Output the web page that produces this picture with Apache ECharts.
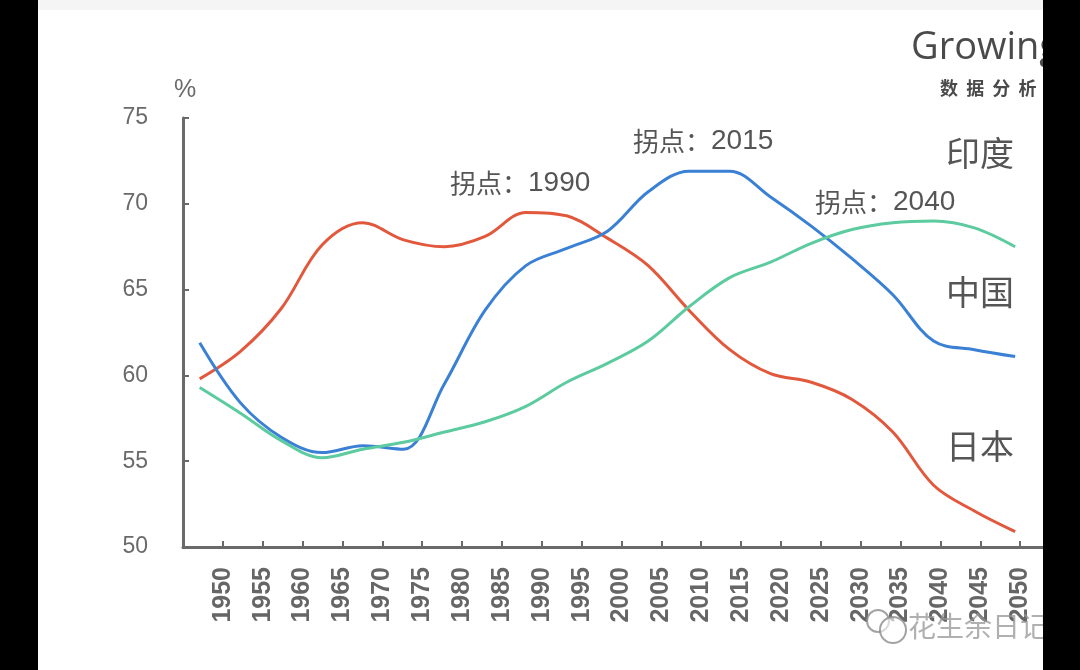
<!DOCTYPE html>
<html><head><meta charset="utf-8">
<script src="https://cdn.jsdelivr.net/npm/echarts@6/dist/echarts.min.js"></script>
<style>html,body{margin:0;padding:0;background:#fff}#c{width:1080px;height:670px}</style>
</head><body><div id="c"></div>
<script>
const years = [1950,1955,1960,1965,1970,1975,1980,1985,1990,1995,2000,2005,2010,2015,2020,2025,2030,2035,2040,2045,2050];
const japan = [59.8,61.4,63.9,67.6,68.9,67.9,67.5,68.1,69.5,69.3,68.0,66.4,63.8,61.5,60.1,59.6,58.6,56.7,53.6,52.1,50.9];
const china = [61.9,58.4,56.4,55.5,55.9,55.7,59.5,63.8,66.4,67.4,68.4,70.7,71.9,71.9,70.4,68.7,66.8,64.7,62.0,61.5,61.1];
const india = [59.3,57.8,56.2,55.2,55.7,56.1,56.7,57.3,58.2,59.6,60.7,62.0,64.0,65.7,66.6,67.7,68.5,68.9,69.0,68.6,67.5];
const seriesNames = ['日本','中国','印度'];
const annotations = [
  {year:'1990', x:450, y:183},
  {year:'2015', x:633, y:141},
  {year:'2040', x:815, y:202}
];
const endLabels = [
  {text:'印度', y:153},
  {text:'中国', y:292},
  {text:'日本', y:446}
];
const zip = (a) => years.map((y,i)=>[y,a[i]]);
const txtColor = '#555555';
const cjk = '"Noto Sans CJK SC","Liberation Sans",sans-serif';
const chart = echarts.init(document.getElementById('c'));
const lineSeries = (name, data, color) => ({
  name, type:'line', xAxisIndex:1, data: zip(data), smooth:0.35, symbol:'none',
  lineStyle:{color, width:3}, z:3
});
chart.setOption({
  animation:false,
  backgroundColor:'#ffffff',
  grid:{left:183, top:118, bottom:123, right:20, containLabel:false},
  xAxis:[
    {type:'value', min:1945, max:2055, interval:5,
     axisLine:{lineStyle:{color:'#6a6a6a', width:3}},
     axisTick:{show:true, inside:true, length:6, lineStyle:{color:'#6a6a6a', width:2}},
     splitLine:{show:false},
     axisLabel:{rotate:90, margin:20, fontSize:25, fontWeight:'bold', color:'#666666', fontFamily:'"Liberation Sans",sans-serif',
       formatter:(v)=> (v>=1950 && v<=2050) ? String(v) : ''}},
    {type:'value', min:1947.95, max:2055.5, show:false}
  ],
  yAxis:{type:'value', min:50, max:75, interval:5,
    axisLine:{show:true, lineStyle:{color:'#6a6a6a', width:3}},
    axisTick:{show:true, inside:true, length:6, lineStyle:{color:'#6a6a6a', width:2}},
    splitLine:{show:false},
    axisLabel:{margin:35, fontSize:23, color:'#6a6a6a', fontFamily:'"Liberation Sans",sans-serif'}},
  series:[
    lineSeries(seriesNames[0], japan, '#e2583c'),
    lineSeries(seriesNames[1], china, '#3a80d4'),
    lineSeries(seriesNames[2], india, '#5ccb9f')
  ],
  graphic:[
    {type:'rect', shape:{x:0,y:0,width:1080,height:10}, style:{fill:'#f5f5f5'}, z:0},
    {type:'text', left:174, top:78, style:{text:'%', fontSize:25, fill:'#6a6a6a', fontFamily:'"Liberation Sans",sans-serif'}},
    ...annotations.map(a=>({type:'text', x:a.x, y:a.y, style:{
      text:'{c|拐点：}{d|'+a.year+'}', verticalAlign:'middle', align:'left',
      rich:{c:{fontSize:26, fill:txtColor, fontFamily:cjk}, d:{fontSize:28, fill:txtColor, fontFamily:'"Liberation Sans",sans-serif'}}}})),
    ...endLabels.map(a=>({type:'text', x:980, y:a.y, style:{text:a.text, fontSize:34, fill:txtColor, align:'center', verticalAlign:'middle', fontFamily:cjk}})),
    {type:'text', x:911, y:48, style:{text:'Growing', fontSize:38, fill:'#4a4a4a', verticalAlign:'middle', fontFamily:'"Open Sans","Liberation Sans",sans-serif'}},
    {type:'text', x:940, y:88, style:{text:'数  据  分  析', fontSize:18, fill:'#4a4a4a', verticalAlign:'middle', fontFamily:cjk, fontWeight:'bold'}},
    {type:'text', x:908, y:626, style:{text:'花生余日记', fontSize:28, fill:'rgba(150,150,150,0.75)', verticalAlign:'middle', fontFamily:cjk}, z:20},
    {type:'circle', shape:{cx:893, cy:630, r:13}, style:{fill:'rgba(255,255,255,0.6)', stroke:'rgba(140,140,140,0.8)', lineWidth:2}, z:20},
    {type:'circle', shape:{cx:878, cy:621, r:11}, style:{fill:'rgba(255,255,255,0.6)', stroke:'rgba(140,140,140,0.8)', lineWidth:2}, z:19},
    {type:'rect', shape:{x:0,y:0,width:38,height:670}, style:{fill:'#000'}, z:50},
    {type:'rect', shape:{x:1043,y:0,width:37,height:670}, style:{fill:'#000'}, z:50}
  ]
});
</script></body></html>
